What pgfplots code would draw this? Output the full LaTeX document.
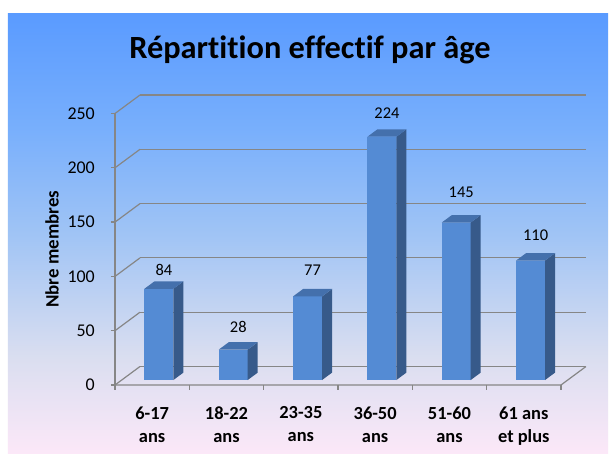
\documentclass[border=0pt]{standalone}
\usepackage{fontspec}
\setmainfont{Carlito}[Ligatures=NoCommon]
\usepackage{pgfplots}
\pgfplotsset{compat=1.18}
\pgfdeclarelayer{background}
\pgfsetlayers{background,main}
\definecolor{gridgray}{RGB}{134,134,134}
\definecolor{barfront}{RGB}{84,139,212}
\definecolor{barside}{RGB}{55,90,138}
\definecolor{bartop}{RGB}{68,112,172}
\definecolor{bg0}{RGB}{252,232,248}
\definecolor{bg1}{RGB}{218,222,240}
\definecolor{bg2}{RGB}{160,196,245}
\definecolor{bg3}{RGB}{120,175,252}
\definecolor{bg4}{RGB}{90,155,255}
\pgfdeclareverticalshading{bgshade}{100bp}{color(0bp)=(bg0); color(25bp)=(bg0); color(36bp)=(bg1); color(50bp)=(bg2); color(62bp)=(bg3); color(75bp)=(bg4); color(100bp)=(bg4)}
\begin{document}
\begin{tikzpicture}[x=1bp,y=1bp]
\begin{axis}[
  x={(74.33bp,0bp)}, y={(25bp,18.5bp)}, z={(0bp,1.086bp)},
  xmin=0, xmax=6, ymin=0, ymax=1, zmin=0, zmax=250,
  clip=false,
  axis line style={draw=none},
  zmajorgrids=true, xmajorgrids=false, ymajorgrids=false,
  major grid style={gridgray, line width=1.2bp},
  ytick=\empty,
  xtick={0.5,1.5,2.5,3.5,4.5,5.5},
  xticklabels={{6-17\\ans},{18-22\\ans},{23-35\\ans},{36-50\\ans},{51-60\\ans},{61 ans\\et plus}},
  ztick={0,50,100,150,200,250},
  major tick length=0pt,
  tick style={draw=none},
  /pgf/number format/assume math mode=true,
  xticklabel style={anchor=north, align=center, inner sep=0pt, yshift=-21.7bp, font=\bfseries\fontsize{18.5}{23}\selectfont},
  zticklabel style={anchor=east, inner sep=0pt, xshift=-20bp, font=\fontsize{18}{18}\selectfont},
  zlabel={Nbre membres},
  every axis z label/.style={at={(rel axis cs:0,0,0.5)}, xshift=-63bp, rotate=90, anchor=center, font=\bfseries\fontsize{19}{19}\selectfont},
  title={Répartition effectif par âge},
  every axis title/.style={at={(rel axis cs:0,0,0)}, anchor=base, xshift=195bp, yshift=326bp, font=\bfseries\fontsize{32.5}{32.5}\selectfont},
]
\coordinate (O) at (axis cs:0,0,0);
% axis frame lines
\addplot3[gridgray, line width=1.2bp, mark=none] coordinates {(0,0,0) (0,0,250)};
\addplot3[gridgray, line width=1.2bp, mark=none] coordinates {(0,0,0) (6,0,0) (6,1,0)};
% tick marks
\addplot3[gridgray, line width=1.2bp, mark=none, unbounded coords=jump] coordinates {
  (-0.054,0,0) (0,0,0) (nan,nan,nan) (-0.054,0,50) (0,0,50) (nan,nan,nan)
  (-0.054,0,100) (0,0,100) (nan,nan,nan) (-0.054,0,150) (0,0,150) (nan,nan,nan)
  (-0.054,0,200) (0,0,200) (nan,nan,nan) (-0.054,0,250) (0,0,250)};
\addplot3[gridgray, line width=1.2bp, mark=none, unbounded coords=jump] coordinates {
  (0,0,0) (0,0,-4.6) (nan,nan,nan) (1,0,0) (1,0,-4.6) (nan,nan,nan)
  (2,0,0) (2,0,-4.6) (nan,nan,nan) (3,0,0) (3,0,-4.6) (nan,nan,nan)
  (4,0,0) (4,0,-4.6) (nan,nan,nan) (5,0,0) (5,0,-4.6) (nan,nan,nan)
  (6,0,0) (6,0,-4.6)};
% bar 1: 84
\addplot3[draw=none, fill=barfront, mark=none] coordinates {(0.305,0.27,0) (0.695,0.27,0) (0.695,0.27,84) (0.305,0.27,84)};
\addplot3[draw=none, fill=barside, mark=none] coordinates {(0.695,0.27,0) (0.695,0.67,0) (0.695,0.67,84) (0.695,0.27,84)};
\addplot3[draw=none, fill=bartop, mark=none] coordinates {(0.305,0.27,84) (0.695,0.27,84) (0.695,0.67,84) (0.305,0.67,84)};
% bar 2: 28
\addplot3[draw=none, fill=barfront, mark=none] coordinates {(1.305,0.27,0) (1.695,0.27,0) (1.695,0.27,28) (1.305,0.27,28)};
\addplot3[draw=none, fill=barside, mark=none] coordinates {(1.695,0.27,0) (1.695,0.67,0) (1.695,0.67,28) (1.695,0.27,28)};
\addplot3[draw=none, fill=bartop, mark=none] coordinates {(1.305,0.27,28) (1.695,0.27,28) (1.695,0.67,28) (1.305,0.67,28)};
% bar 3: 77
\addplot3[draw=none, fill=barfront, mark=none] coordinates {(2.305,0.27,0) (2.695,0.27,0) (2.695,0.27,77) (2.305,0.27,77)};
\addplot3[draw=none, fill=barside, mark=none] coordinates {(2.695,0.27,0) (2.695,0.67,0) (2.695,0.67,77) (2.695,0.27,77)};
\addplot3[draw=none, fill=bartop, mark=none] coordinates {(2.305,0.27,77) (2.695,0.27,77) (2.695,0.67,77) (2.305,0.67,77)};
% bar 4: 224
\addplot3[draw=none, fill=barfront, mark=none] coordinates {(3.305,0.27,0) (3.695,0.27,0) (3.695,0.27,224) (3.305,0.27,224)};
\addplot3[draw=none, fill=barside, mark=none] coordinates {(3.695,0.27,0) (3.695,0.67,0) (3.695,0.67,224) (3.695,0.27,224)};
\addplot3[draw=none, fill=bartop, mark=none] coordinates {(3.305,0.27,224) (3.695,0.27,224) (3.695,0.67,224) (3.305,0.67,224)};
% bar 5: 145
\addplot3[draw=none, fill=barfront, mark=none] coordinates {(4.305,0.27,0) (4.695,0.27,0) (4.695,0.27,145) (4.305,0.27,145)};
\addplot3[draw=none, fill=barside, mark=none] coordinates {(4.695,0.27,0) (4.695,0.67,0) (4.695,0.67,145) (4.695,0.27,145)};
\addplot3[draw=none, fill=bartop, mark=none] coordinates {(4.305,0.27,145) (4.695,0.27,145) (4.695,0.67,145) (4.305,0.67,145)};
% bar 6: 110
\addplot3[draw=none, fill=barfront, mark=none] coordinates {(5.305,0.27,0) (5.695,0.27,0) (5.695,0.27,110) (5.305,0.27,110)};
\addplot3[draw=none, fill=barside, mark=none] coordinates {(5.695,0.27,0) (5.695,0.67,0) (5.695,0.67,110) (5.695,0.27,110)};
\addplot3[draw=none, fill=bartop, mark=none] coordinates {(5.305,0.27,110) (5.695,0.27,110) (5.695,0.67,110) (5.305,0.67,110)};
% data labels
\addplot3[draw=none, mark=none, nodes near coords, point meta=explicit symbolic,
  every node near coord/.append style={anchor=base, inner sep=0pt, text=black, font=\fontsize{16.5}{16.5}\selectfont}]
  coordinates {(0.5,0.47,92.6)[84] (1.5,0.47,39.9)[28] (2.5,0.47,92.4)[77] (3.5,0.47,237.8)[224] (4.5,0.47,164.5)[145] (5.5,0.47,124.6)[110]};
\end{axis}
\begin{pgfonlayer}{background}
\begin{scope}[shift={(O)}]
\fill[white] (-115,-69) rectangle (494,385);
\shade[shading=bgshade] (-107,-69) rectangle (493,371);
\end{scope}
\end{pgfonlayer}
\pgfresetboundingbox
\begin{scope}[shift={(O)}]
\useasboundingbox (-115,-69) rectangle (494,385);
\end{scope}
\end{tikzpicture}
\end{document}
